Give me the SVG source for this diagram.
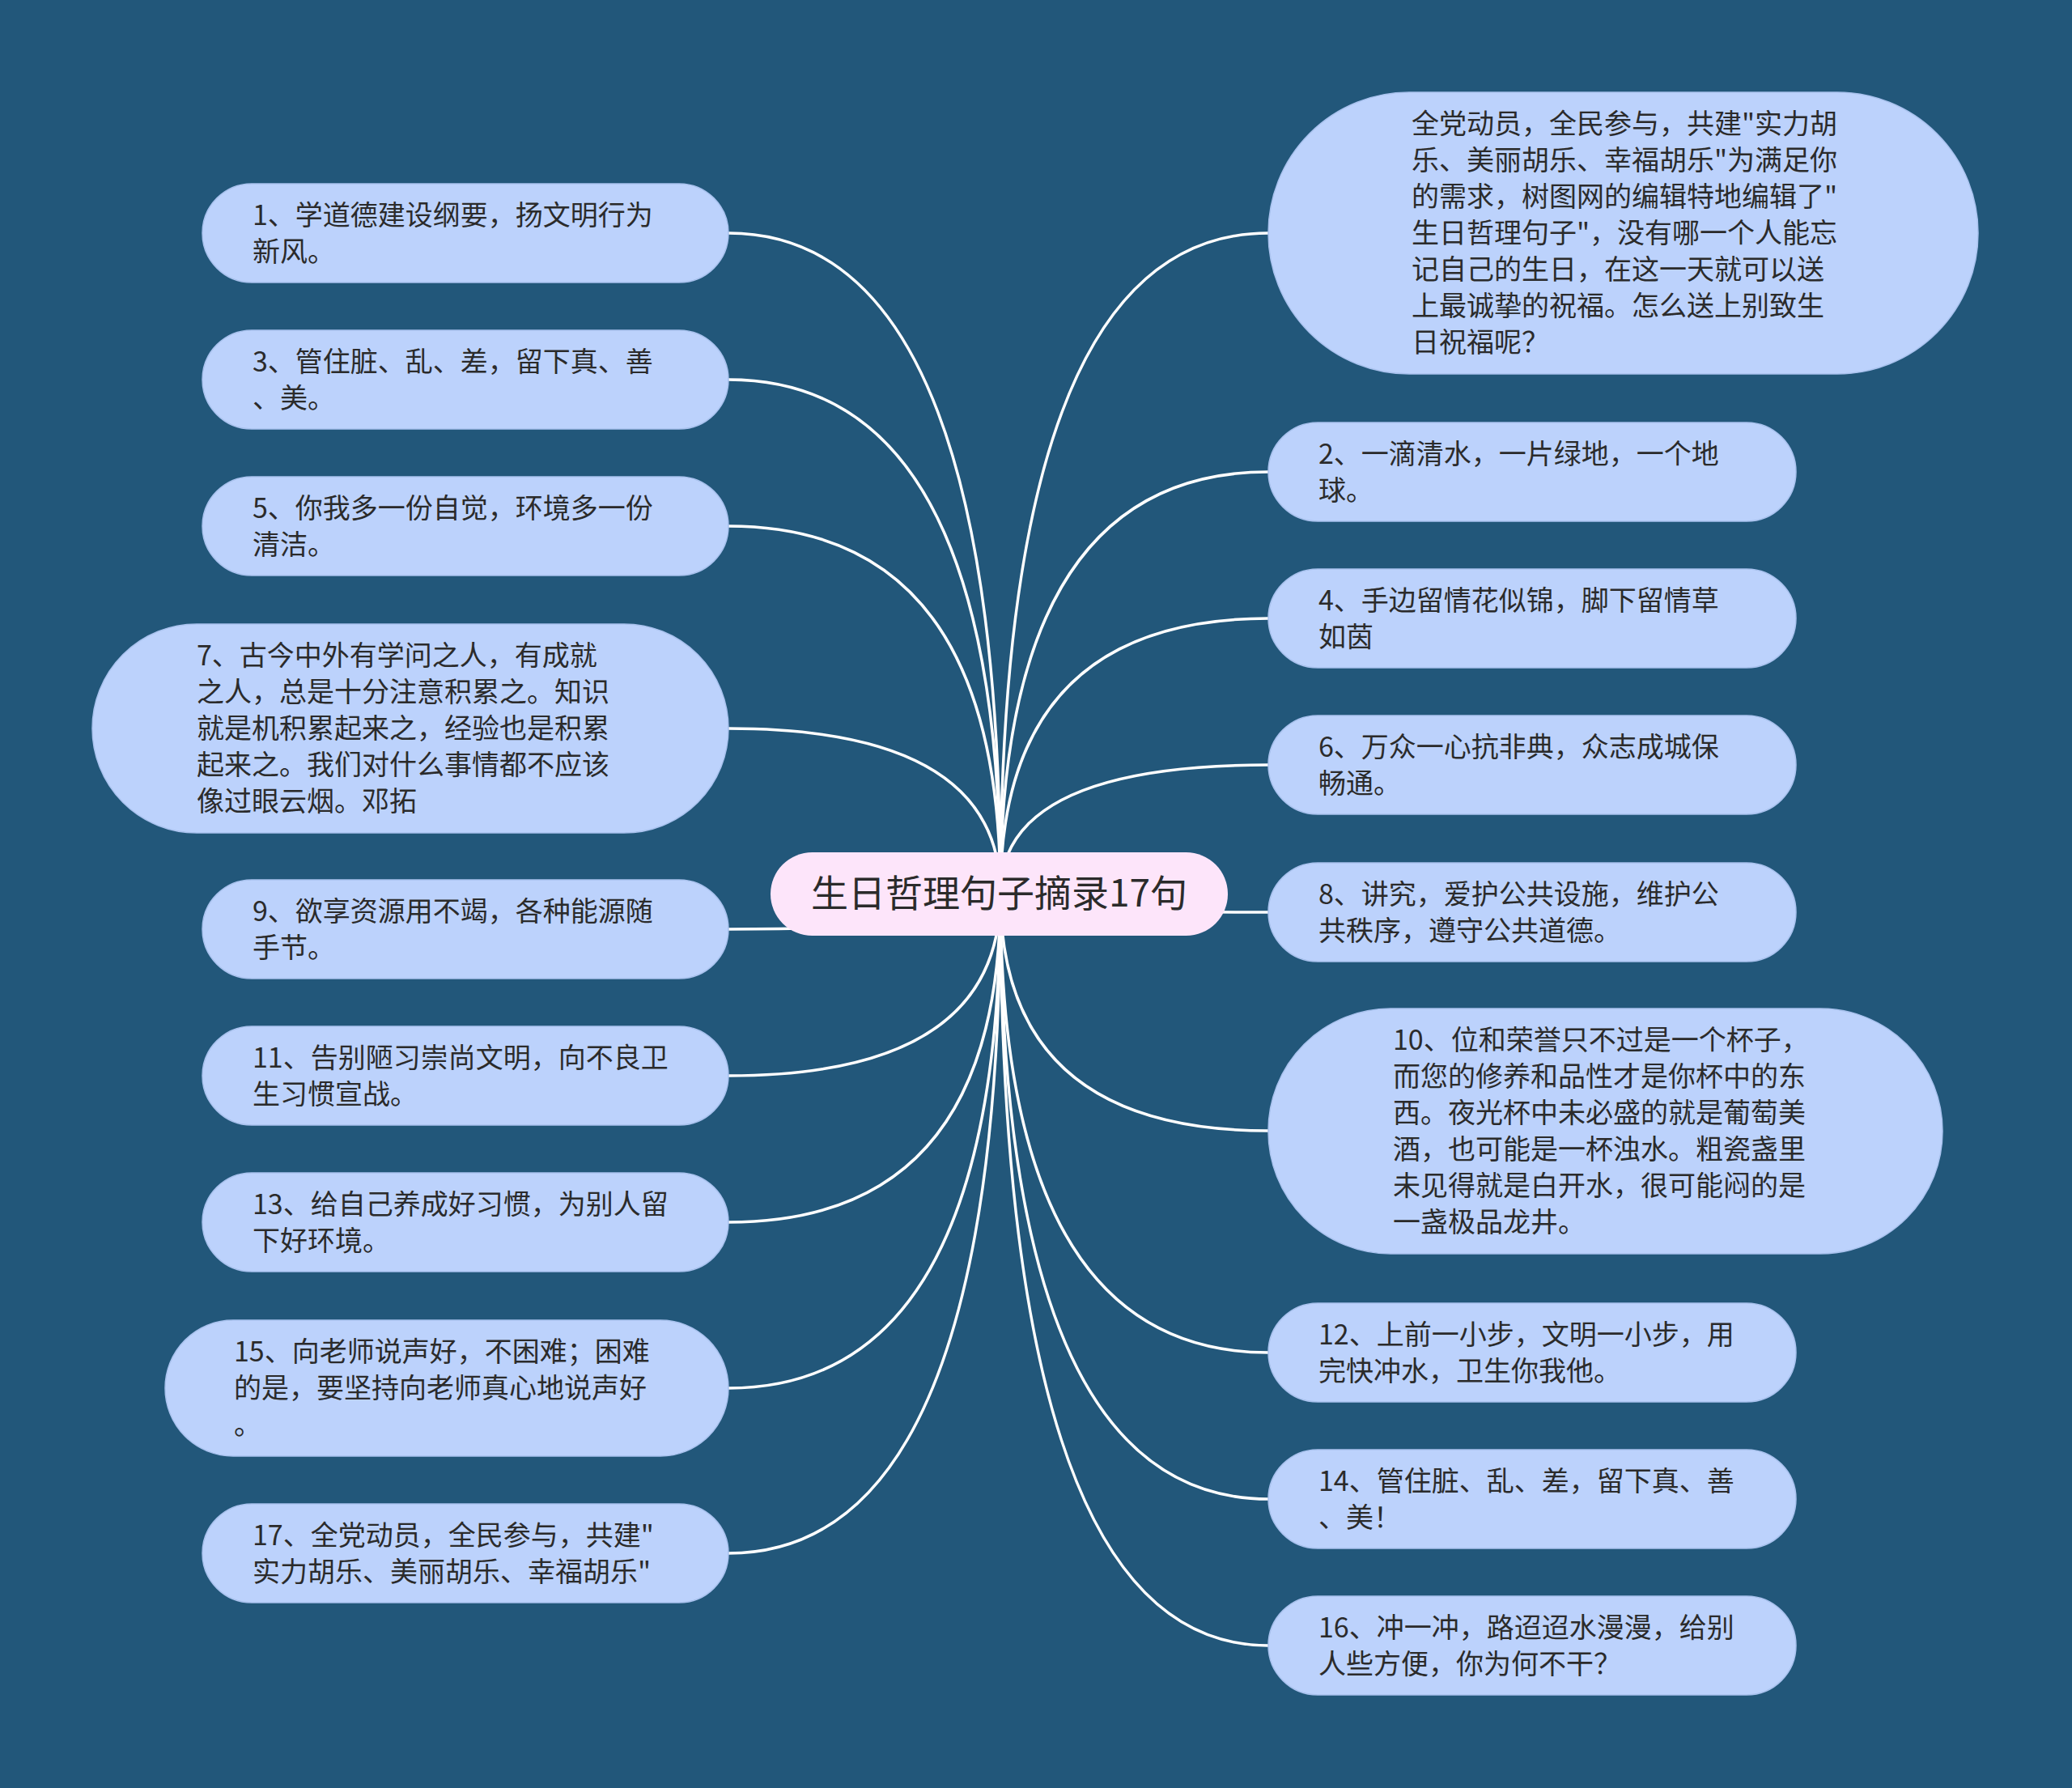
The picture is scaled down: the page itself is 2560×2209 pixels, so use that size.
<svg xmlns="http://www.w3.org/2000/svg" width="2560" height="2209" viewBox="0 0 2560 2209">
<style>
.bg{fill:#22577a}
.n rect{fill:#bcd2fc;stroke:#a9c2ee;stroke-width:1.5}
.n text,.c text{font-family:"Noto Sans CJK SC","Noto Sans",sans-serif;font-size:34px;fill:#2b2b2b}
.c rect{fill:#fde5fa}
.c text{font-size:46px;text-anchor:middle}
.l path{fill:none;stroke:#ffffff;stroke-width:3.5}
</style>
<rect class="bg" x="0" y="0" width="2560" height="2209"/>
<g class="l" id="connectors">
<path d="M1236 1104 Q1236 288 900 288"/>
<path d="M1236 1104 Q1236 469 900 469"/>
<path d="M1236 1104 Q1236 650 900 650"/>
<path d="M1236 1104 Q1236 900 900 900"/>
<path d="M1236 1104 Q1236 1148 900 1148"/>
<path d="M1236 1104 Q1236 1329 900 1329"/>
<path d="M1236 1104 Q1236 1510 900 1510"/>
<path d="M1236 1104 Q1236 1715 900 1715"/>
<path d="M1236 1104 Q1236 1919 900 1919"/>
<path d="M1236 1104 Q1236 288 1567 288"/>
<path d="M1236 1104 Q1236 583 1567 583"/>
<path d="M1236 1104 Q1236 764 1567 764"/>
<path d="M1236 1104 Q1236 945 1567 945"/>
<path d="M1236 1104 Q1236 1127 1567 1127"/>
<path d="M1236 1104 Q1236 1397 1567 1397"/>
<path d="M1236 1104 Q1236 1671 1567 1671"/>
<path d="M1236 1104 Q1236 1852 1567 1852"/>
<path d="M1236 1104 Q1236 2033 1567 2033"/>
</g>
<g class="c" id="center">
<rect x="952" y="1053" width="565" height="103" rx="51.5"/>
<text x="1234.5" y="1120">生日哲理句子摘录17句</text>
</g>
<g class="n" id="n1">
<rect x="250" y="227" width="650" height="122" rx="61"/>
<text x="312" y="278">1、学道德建设纲要，扬文明行为</text>
<text x="312" y="323">新风。</text>
</g>
<g class="n" id="n3">
<rect x="250" y="408" width="650" height="122" rx="61"/>
<text x="312" y="459">3、管住脏、乱、差，留下真、善</text>
<text x="312" y="504">、美。</text>
</g>
<g class="n" id="n5">
<rect x="250" y="589" width="650" height="122" rx="61"/>
<text x="312" y="640">5、你我多一份自觉，环境多一份</text>
<text x="312" y="685">清洁。</text>
</g>
<g class="n" id="n7">
<rect x="114" y="771" width="786" height="258" rx="129"/>
<text x="243" y="822">7、古今中外有学问之人，有成就</text>
<text x="243" y="867">之人，总是十分注意积累之。知识</text>
<text x="243" y="912">就是机积累起来之，经验也是积累</text>
<text x="243" y="957">起来之。我们对什么事情都不应该</text>
<text x="243" y="1002">像过眼云烟。邓拓</text>
</g>
<g class="n" id="n9">
<rect x="250" y="1087" width="650" height="122" rx="61"/>
<text x="312" y="1138">9、欲享资源用不竭，各种能源随</text>
<text x="312" y="1183">手节。</text>
</g>
<g class="n" id="n11">
<rect x="250" y="1268" width="650" height="122" rx="61"/>
<text x="312" y="1319">11、告别陋习崇尚文明，向不良卫</text>
<text x="312" y="1364">生习惯宣战。</text>
</g>
<g class="n" id="n13">
<rect x="250" y="1449" width="650" height="122" rx="61"/>
<text x="312" y="1500">13、给自己养成好习惯，为别人留</text>
<text x="312" y="1545">下好环境。</text>
</g>
<g class="n" id="n15">
<rect x="204" y="1631" width="696" height="168" rx="84"/>
<text x="289" y="1682">15、向老师说声好，不困难；困难</text>
<text x="289" y="1727">的是，要坚持向老师真心地说声好</text>
<text x="289" y="1772">。</text>
</g>
<g class="n" id="n17">
<rect x="250" y="1858" width="650" height="122" rx="61"/>
<text x="312" y="1909">17、全党动员，全民参与，共建"</text>
<text x="312" y="1954">实力胡乐、美丽胡乐、幸福胡乐"</text>
</g>
<g class="n" id="intro">
<rect x="1567" y="114" width="877" height="348" rx="174"/>
<text x="1744" y="165">全党动员，全民参与，共建"实力胡</text>
<text x="1744" y="210">乐、美丽胡乐、幸福胡乐"为满足你</text>
<text x="1744" y="255">的需求，树图网的编辑特地编辑了"</text>
<text x="1744" y="300">生日哲理句子"，没有哪一个人能忘</text>
<text x="1744" y="345">记自己的生日，在这一天就可以送</text>
<text x="1744" y="390">上最诚挚的祝福。怎么送上别致生</text>
<text x="1744" y="435">日祝福呢？</text>
</g>
<g class="n" id="n2">
<rect x="1567" y="522" width="652" height="122" rx="61"/>
<text x="1629" y="573">2、一滴清水，一片绿地，一个地</text>
<text x="1629" y="618">球。</text>
</g>
<g class="n" id="n4">
<rect x="1567" y="703" width="652" height="122" rx="61"/>
<text x="1629" y="754">4、手边留情花似锦，脚下留情草</text>
<text x="1629" y="799">如茵</text>
</g>
<g class="n" id="n6">
<rect x="1567" y="884" width="652" height="122" rx="61"/>
<text x="1629" y="935">6、万众一心抗非典，众志成城保</text>
<text x="1629" y="980">畅通。</text>
</g>
<g class="n" id="n8">
<rect x="1567" y="1066" width="652" height="122" rx="61"/>
<text x="1629" y="1117">8、讲究，爱护公共设施，维护公</text>
<text x="1629" y="1162">共秩序，遵守公共道德。</text>
</g>
<g class="n" id="n10">
<rect x="1567" y="1246" width="833" height="303" rx="151"/>
<text x="1721" y="1297">10、位和荣誉只不过是一个杯子，</text>
<text x="1721" y="1342">而您的修养和品性才是你杯中的东</text>
<text x="1721" y="1387">西。夜光杯中未必盛的就是葡萄美</text>
<text x="1721" y="1432">酒，也可能是一杯浊水。粗瓷盏里</text>
<text x="1721" y="1477">未见得就是白开水，很可能闷的是</text>
<text x="1721" y="1522">一盏极品龙井。</text>
</g>
<g class="n" id="n12">
<rect x="1567" y="1610" width="652" height="122" rx="61"/>
<text x="1629" y="1661">12、上前一小步，文明一小步，用</text>
<text x="1629" y="1706">完快冲水，卫生你我他。</text>
</g>
<g class="n" id="n14">
<rect x="1567" y="1791" width="652" height="122" rx="61"/>
<text x="1629" y="1842">14、管住脏、乱、差，留下真、善</text>
<text x="1629" y="1887">、美！</text>
</g>
<g class="n" id="n16">
<rect x="1567" y="1972" width="652" height="122" rx="61"/>
<text x="1629" y="2023">16、冲一冲，路迢迢水漫漫，给别</text>
<text x="1629" y="2068">人些方便，你为何不干？</text>
</g>
</svg>
